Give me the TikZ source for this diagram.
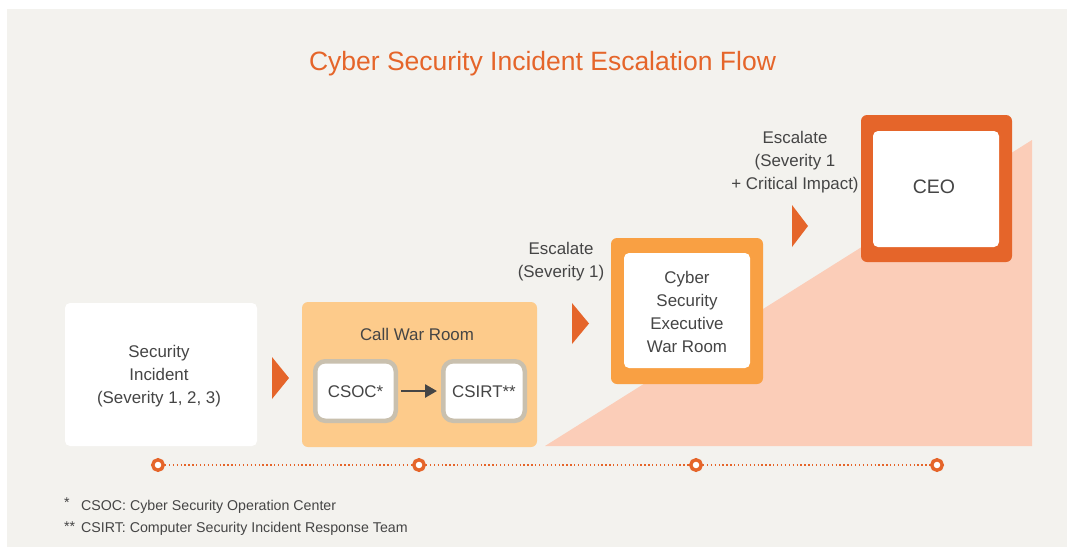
\documentclass[tikz,border=0pt]{standalone}
\usepackage{fontspec}
\setmainfont{Liberation Sans}
\usetikzlibrary{arrows.meta}
\definecolor{panel}{HTML}{F3F2EE}
\definecolor{dorange}{HTML}{E5652A}
\definecolor{morange}{HTML}{F9A043}
\definecolor{lorange}{HTML}{FDCB8B}
\definecolor{pinkbg}{HTML}{FBCDB8}
\definecolor{grayborder}{HTML}{C9C0AE}
\definecolor{txt}{HTML}{454545}
\tikzset{
  body/.style={font=\fontsize{16.9}{23}\selectfont, text=txt, align=center, inner sep=0pt},
  whitebox/.style={fill=white, rounded corners=5pt, inner sep=0pt},
  outerbox/.style={rounded corners=6pt, inner sep=0pt},
  subbox/.style={draw=grayborder, line width=4.5pt, fill=white, rounded corners=10pt, inner sep=0pt, minimum height=59.5pt},
  marker/.style={fill=dorange},
  tdot/.style={circle, draw=dorange, line width=3.4pt, fill=white, minimum size=10.5pt, inner sep=0pt},
  tline/.style={dorange, line width=1.3pt, dash pattern=on 1.3pt off 2.6pt},
  foot/.style={font=\fontsize{14.2}{17}\selectfont, text=txt, anchor=west, inner sep=0pt}
}
\begin{document}
\begin{tikzpicture}[x=1pt,y=-1pt]
\useasboundingbox (0,0) rectangle (1067,547);
\fill[white] (0,0) rectangle (1067,547);
\fill[panel] (7,9) rectangle (1067,547);
% title
\node[font=\fontsize{26.5}{30}\selectfont, text=dorange, inner sep=0pt] (title) at (542.5,64) {Cyber Security Incident Escalation Flow};
% pink ramp
\fill[pinkbg] (545,446) -- (1032,446) -- (1032,140) -- cycle;
% security incident
\node[whitebox, minimum width=192pt, minimum height=143pt] (inc) at (161,374.5) {};
\node[body] (inctxt) at (159,376) {Security\\Incident\\(Severity 1, 2, 3)};
% marker 1
\fill[marker] (272,357) -- (289,378) -- (272,399) -- cycle;
% call war room
\node[outerbox, fill=lorange, minimum width=235pt, minimum height=145pt] (cwr) at (419.5,374.5) {};
\node[body] (cwrtxt) at (417,334.5) {Call War Room};
\node[subbox, minimum width=80.5pt] (csoc) at (355.5,391) {};
\node[body] at ([yshift=-1pt]csoc.center) {CSOC*};
\node[subbox, minimum width=81.5pt] (csirt) at (484,391) {};
\node[body] at ([yshift=-1pt]csirt.center) {CSIRT**};
\draw[draw=txt, line width=2.6pt, -{Triangle[length=12pt,width=13pt]}, shorten <=3pt, shorten >=4pt] (csoc.east) -- (csirt.west);
% marker 2
\fill[marker] (572,303) -- (589,323.5) -- (572,344) -- cycle;
\node[body] (esc1) at (561,261.5) {Escalate\\(Severity 1)};
% exec
\node[outerbox, fill=morange, minimum width=152pt, minimum height=146pt] (exec) at (687,311) {};
\node[whitebox, minimum width=126pt, minimum height=115pt] (execin) at (687,310.5) {};
\node[body] at ([yshift=-1pt]execin.center) {Cyber\\Security\\Executive\\War Room};
% marker 3
\fill[marker] (792,205) -- (808,226) -- (792,247) -- cycle;
\node[body] (esc2) at (795,162.5) {Escalate\\(Severity 1\\+ Critical Impact)};
% CEO
\node[outerbox, fill=dorange, minimum width=151pt, minimum height=147pt] (ceo) at (936.5,188.5) {};
\node[whitebox, minimum width=126pt, minimum height=116pt] (ceoin) at (936,189) {};
\node[body, font=\fontsize{19.5}{23}\selectfont] at ([xshift=-2pt,yshift=2pt]ceoin.center) {CEO};
% timeline
\node[tdot] (t1) at (158,465) {};
\node[tdot] (t2) at (419,465) {};
\node[tdot] (t3) at (696,465) {};
\node[tdot] (t4) at (937,465) {};
\draw[tline] (t1) -- (t2);
\draw[tline] (t2) -- (t3);
\draw[tline] (t3) -- (t4);
% footnotes
\node[foot] (f1) at (64,506) {\makebox[17pt][l]{\raisebox{3pt}{*}}CSOC: Cyber Security Operation Center};
\node[foot] (f2) at (64,529) {\makebox[17pt][l]{\raisebox{1pt}{**}}CSIRT: Computer Security Incident Response Team};
\end{tikzpicture}
\end{document}
